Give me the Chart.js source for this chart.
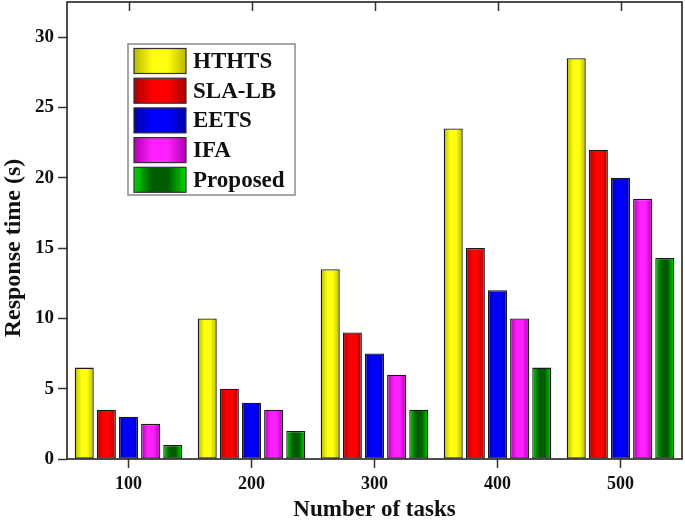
<!DOCTYPE html>
<html>
<head>
<meta charset="utf-8">
<script src="https://cdn.jsdelivr.net/npm/chart.js@4.4.1/dist/chart.umd.min.js"></script>
<style>
  html, body { margin: 0; padding: 0; background: #fff; }
  #wrap { width: 685px; height: 520px; position: relative; }
</style>
</head>
<body>
<div id="wrap"><canvas id="c"></canvas></div>
<script>
const categories = ['100', '200', '300', '400', '500'];
const seriesNames = ['HTHTS', 'SLA-LB', 'EETS', 'IFA', 'Proposed'];
const hthts    = [6.5, 10, 13.5, 23.5, 28.5];
const slalb    = [3.5, 5, 9, 15, 22];
const eets     = [3, 4, 7.5, 12, 20];
const ifa      = [2.5, 3.5, 6, 10, 18.5];
const proposed = [1, 2, 3.5, 6.5, 14.3];
const yTicks   = [0, 5, 10, 15, 20, 25, 30];
const xTitle = 'Number of tasks';
const yTitle = 'Response time (s)';

const seriesValues = [hthts, slalb, eets, ifa, proposed];
// [edge, center] colours of the shaded fill
const shades = [
  ['#b8b800', '#ffff10'],
  ['#a80000', '#ff0000'],
  ['#0000a8', '#0000ff'],
  ['#b000b0', '#ff20ff'],
  ['#00d800', '#005c00']
];
const FONT = "'Liberation Serif', 'Times New Roman', serif";

function makeGrad(ctx, x0, x1, pair) {
  const g = ctx.createLinearGradient(x0, 0, x1, 0);
  g.addColorStop(0, pair[0]);
  g.addColorStop(0.35, pair[1]);
  g.addColorStop(0.65, pair[1]);
  g.addColorStop(1, pair[0]);
  return g;
}

const shadePlugin = {
  id: 'shade',
  beforeDatasetsDraw(chart) {
    const ctx = chart.ctx;
    chart.data.datasets.forEach((ds, di) => {
      const meta = chart.getDatasetMeta(di);
      meta.data.forEach(el => {
        const p = el.getProps(['x', 'width'], true);
        el.options.backgroundColor = makeGrad(ctx, p.x - p.width / 2, p.x + p.width / 2, shades[di]);
      });
    });
  }
};

const framePlugin = {
  id: 'frame',
  afterDatasetsDraw(chart) {
    const ctx = chart.ctx;
    const a = chart.chartArea;
    ctx.save();
    // mirrored top ticks (inward)
    ctx.strokeStyle = '#333';
    ctx.lineWidth = 1.5;
    const xs = chart.scales.x;
    xs.ticks.forEach((t, i) => {
      const px = Math.round(xs.getPixelForTick(i)) + 0.5;
      ctx.beginPath();
      ctx.moveTo(px, a.top);
      ctx.lineTo(px, a.top + 9);
      ctx.stroke();
    });
    // frame
    ctx.strokeStyle = '#222';
    ctx.lineWidth = 1.6;
    ctx.strokeRect(a.left, a.top, a.right - a.left, a.bottom - a.top);

    // y axis title
    ctx.save();
    ctx.translate(14, 248);
    ctx.rotate(-Math.PI / 2);
    ctx.font = 'bold 24px ' + FONT;
    ctx.fillStyle = '#111';
    ctx.textAlign = 'center';
    ctx.textBaseline = 'middle';
    ctx.fillText(yTitle, 0, 0);
    ctx.restore();

    // legend
    const bx = 128, by = 44, bw = 167, bh = 151;
    ctx.fillStyle = '#fff';
    ctx.fillRect(bx, by, bw, bh);
    ctx.strokeStyle = '#8a8a8a';
    ctx.lineWidth = 1.5;
    ctx.strokeRect(bx, by, bw, bh);
    const rowH = 29.7;
    ctx.font = 'bold 23px ' + FONT;
    ctx.textBaseline = 'middle';
    ctx.textAlign = 'left';
    chart.data.datasets.forEach((ds, i) => {
      const sy = by + 4.5 + i * rowH;
      const sx = bx + 6, sw = 52, sh = 25;
      ctx.fillStyle = makeGrad(ctx, sx, sx + sw, shades[i]);
      ctx.fillRect(sx, sy, sw, sh);
      ctx.strokeStyle = '#333';
      ctx.lineWidth = 1.2;
      ctx.strokeRect(sx, sy, sw, sh);
      ctx.fillStyle = '#111';
      ctx.fillText(ds.label, bx + 65, sy + sh / 2 + 1);
    });
    ctx.restore();
  }
};

const datasets = seriesNames.map((name, i) => ({
  label: name,
  data: seriesValues[i],
  backgroundColor: () => shades[i][1],
  borderColor: '#1a1a1a',
  borderWidth: 1.3,
  borderSkipped: false,
  categoryPercentage: 0.9,
  barPercentage: 0.86
}));

new Chart(document.getElementById('c'), {
  type: 'bar',
  data: { labels: categories, datasets },
  options: {
    responsive: true,
    maintainAspectRatio: false,
    animation: false,
    layout: { padding: { top: 2, right: 3, left: 0, bottom: 0 } },
    plugins: { legend: { display: false }, tooltip: { enabled: false } },
    scales: {
      x: {
        offset: true,
        grid: { display: true, drawOnChartArea: false, drawTicks: true, tickLength: 9, tickWidth: 1.5, tickColor: '#333', offset: false },
        border: { display: false },
        ticks: { color: '#111', font: { family: FONT, size: 18, weight: 'bold' }, padding: 6, maxRotation: 0 },
        title: { display: true, text: xTitle, color: '#111', font: { family: FONT, size: 23, weight: 'bold', lineHeight: 0.9 }, padding: { top: 0, bottom: 0 } },
        afterFit(scale) { scale.height = 61; scale.paddingLeft = 0; scale.paddingRight = 0; }
      },
      y: {
        min: 0,
        max: 32.5,
        grid: { display: true, drawOnChartArea: false, drawTicks: true, tickLength: 9, tickWidth: 1.5, tickColor: '#333' },
        border: { display: false },
        afterBuildTicks(scale) { scale.ticks = yTicks.map(v => ({ value: v })); },
        ticks: { color: '#111', font: { family: FONT, size: 19, weight: 'bold' }, padding: 4 },
        title: { display: false },
        afterFit(scale) { scale.width = 67; scale.paddingTop = 0; scale.paddingBottom = 0; }
      }
    }
  },
  plugins: [shadePlugin, framePlugin]
});
</script>
</body>
</html>
